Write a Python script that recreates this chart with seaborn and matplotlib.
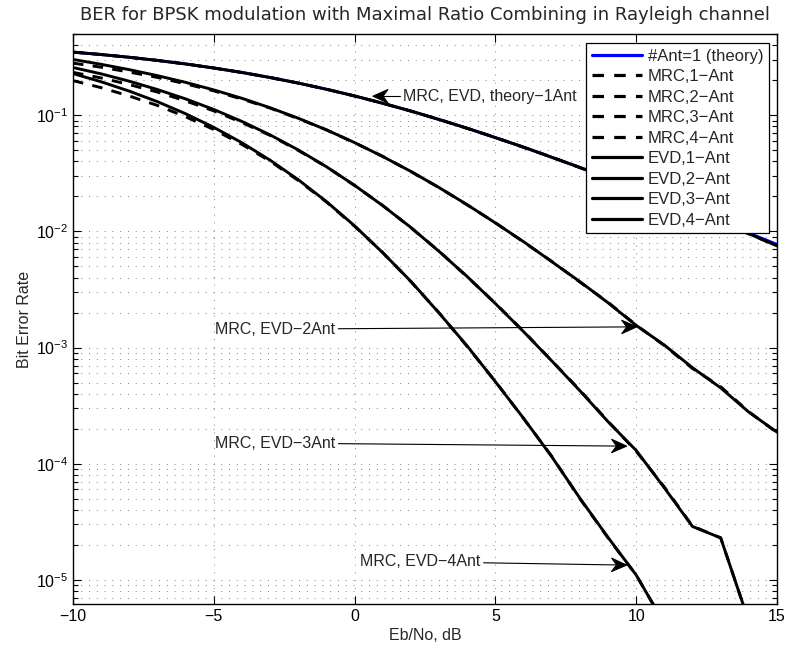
import numpy as np
import pandas as pd
import matplotlib
matplotlib.use("Agg")
import matplotlib.pyplot as plt
import seaborn as sns
from matplotlib.ticker import LogLocator, NullFormatter, FixedLocator
from matplotlib.patches import ArrowStyle
from matplotlib.path import Path

# ---------------- data ----------------
EbNo_dB = list(range(-10, 16))

theory_1ant = [0.3492, 0.3328, 0.3151, 0.2961, 0.2760, 0.2549, 0.2332, 0.2111, 0.1890, 0.1673,
               0.1464, 0.1267, 0.1085, 0.0919, 0.0771, 0.0642, 0.0530, 0.04347, 0.03546, 0.02878,
               0.02327, 0.01875, 0.01506, 0.01208, 0.00967, 0.00772]

mrc_1ant = [0.3490, 0.3330, 0.3149, 0.2963, 0.2758, 0.2551, 0.2330, 0.2113, 0.1888, 0.1675,
            0.1462, 0.1269, 0.1083, 0.0921, 0.0769, 0.0644, 0.0528, 0.04360, 0.03530, 0.02890,
            0.02315, 0.01880, 0.01495, 0.01215, 0.00950, 0.00752]
mrc_2ant = [0.2805, 0.2588, 0.2350, 0.2113, 0.1862, 0.1620, 0.1375, 0.1151, 0.0934, 0.0748,
            0.0579, 0.0442, 0.0327, 0.0238, 0.01688, 0.01186, 0.00810, 0.00552, 0.00366, 0.00245,
            0.00156, 0.00104, 0.00066, 0.00046, 0.000280, 0.000185]
mrc_3ant = [0.2337, 0.2093, 0.1834, 0.1582, 0.1326, 0.1089, 0.0864, 0.0670, 0.0497, 0.0360,
            0.0248, 0.0167, 0.01075, 0.00675, 0.00406, 0.00240, 0.00138, 0.000770, 0.000430, 0.000232,
            0.000128, 6.3e-5, 2.9e-5, 2.3e-5, 4.4e-6, 1.5e-6]
mrc_4ant = [0.1984, 0.1726, 0.1463, 0.1212, 0.0969, 0.0753, 0.0560, 0.0402, 0.0274, 0.01790,
            0.01107, 0.00657, 0.00369, 0.00199, 0.00102, 0.000510, 0.000245, 0.000116, 5.0e-5, 2.3e-5,
            1.1e-5, 4.2e-6, 1.5e-6, 8e-7, 4e-7, 2e-7]

evd_1ant = [0.3494, 0.3326, 0.3153, 0.2959, 0.2762, 0.2547, 0.2334, 0.2109, 0.1892, 0.1671,
            0.1466, 0.1265, 0.1087, 0.0917, 0.0773, 0.0640, 0.0532, 0.04340, 0.03555, 0.02870,
            0.02335, 0.01870, 0.01510, 0.01200, 0.00955, 0.00750]
evd_2ant = [0.3020, 0.2741, 0.2466, 0.2189, 0.1917, 0.1650, 0.1397, 0.1159, 0.09413, 0.07475,
            0.0581, 0.0441, 0.03280, 0.02382, 0.01695, 0.01182, 0.00815, 0.00549, 0.00369, 0.00243,
            0.00155, 0.00105, 0.00067, 0.00045, 0.000278, 0.000187]
evd_3ant = [0.2573, 0.2269, 0.1961, 0.1662, 0.1381, 0.1120, 0.08833, 0.06767, 0.05022, 0.03600,
            0.0249, 0.01665, 0.01080, 0.00672, 0.00408, 0.00239, 0.00137, 0.000768, 0.000425, 0.000230,
            0.000130, 6.2e-5, 2.88e-5, 2.3e-5, 4.4e-6, 1.5e-6]
evd_4ant = [0.2283, 0.1940, 0.1611, 0.1307, 0.1029, 0.07854, 0.05787, 0.04099, 0.02783, 0.01805,
            0.01115, 0.00655, 0.00371, 0.00198, 0.00103, 0.000508, 0.000246, 0.000115, 5.05e-5, 2.32e-5,
            1.1e-5, 4.2e-6, 1.5e-6, 8e-7, 4e-7, 2e-7]

series_names = ["#Ant=1 (theory)", "MRC,1\u2212Ant", "MRC,2\u2212Ant", "MRC,3\u2212Ant", "MRC,4\u2212Ant",
                "EVD,1\u2212Ant", "EVD,2\u2212Ant", "EVD,3\u2212Ant", "EVD,4\u2212Ant"]
series_values = [theory_1ant, mrc_1ant, mrc_2ant, mrc_3ant, mrc_4ant,
                 evd_1ant, evd_2ant, evd_3ant, evd_4ant]

title_text = "BER for BPSK modulation with Maximal Ratio Combining in Rayleigh channel"
xlabel_text = "Eb/No, dB"
ylabel_text = "Bit Error Rate"
x_ticks = [-10, -5, 0, 5, 10, 15]

# annotations: (text, arrow tip, text anchor)
annotations = [
    ("MRC, EVD, theory\u22121Ant", (0.65, 0.1457), (1.72, 0.1457)),
    ("MRC, EVD\u22122Ant", (10.02, 1.507e-3), (-4.96, 1.44e-3)),
    ("MRC, EVD\u22123Ant", (9.66, 1.417e-4), (-4.96, 1.504e-4)),
    ("MRC, EVD\u22124Ant", (9.66, 1.34e-5), (0.19, 1.432e-5)),
]

# ---------------- build table ----------------
frames = []
for name, vals in zip(series_names, series_values):
    frames.append(pd.DataFrame({"EbNo": EbNo_dB, "BER": vals, "series": name}))
df = pd.concat(frames, ignore_index=True)


# MATLAB-like "vback2" arrow head
class VBack(ArrowStyle._Base):
    def __init__(self, head_length=0.54, head_width=0.24, notch=0.33):
        self.head_length = head_length
        self.head_width = head_width
        self.notch = notch
        super().__init__()

    def transmute(self, path, mutation_size, linewidth):
        v = path.vertices
        x0, y0 = v[0]
        x1, y1 = v[-1]
        dx, dy = x1 - x0, y1 - y0
        d = np.hypot(dx, dy)
        ux, uy = dx / d, dy / d
        px, py = -uy, ux
        L = self.head_length * mutation_size
        W = self.head_width * mutation_size
        bx, by = x1 - ux * L, y1 - uy * L
        nx, ny = x1 - ux * L * (1 - self.notch), y1 - uy * L * (1 - self.notch)
        head = Path([(x1, y1), (bx + px * W, by + py * W), (nx, ny),
                     (bx - px * W, by - py * W), (x1, y1)],
                    [Path.MOVETO, Path.LINETO, Path.LINETO, Path.LINETO, Path.CLOSEPOLY])
        line = Path([(x0, y0), (nx, ny)], [Path.MOVETO, Path.LINETO])
        return [line, head], [False, True]


# ---------------- style ----------------
sns.set_style("ticks")
plt.rcParams["font.family"] = ["Liberation Sans", "DejaVu Sans"]
plt.rcParams["mathtext.fontset"] = "custom"
plt.rcParams["mathtext.rm"] = "Liberation Sans"
plt.rcParams["mathtext.it"] = "Liberation Sans:italic"
plt.rcParams["mathtext.bf"] = "Liberation Sans:bold"
plt.rcParams["axes.unicode_minus"] = True

FS = 11.5

fig = plt.figure(figsize=(7.88, 6.5), dpi=100)
fig.patch.set_facecolor("white")
ax = fig.add_axes([73 / 788, 1 - 604 / 650, 704 / 788, 570 / 650])
ax.set_facecolor("white")

dash = (0, (3.6, 3.2))
styles = [("#0000ff", "-")] + [("black", dash)] * 4 + [("black", "-")] * 4

for name, (col, ls) in zip(series_names, styles):
    sns.lineplot(data=df[df["series"] == name], x="EbNo", y="BER", ax=ax,
                 color=col, linestyle=ls, linewidth=2.1, label=name,
                 estimator=None, errorbar=None, sort=True)

ax.set_yscale("log")
ax.set_xlim(-10, 15)
ax.set_ylim(6.2e-6, 0.5)
ax.xaxis.set_major_locator(FixedLocator(x_ticks))
ax.yaxis.set_major_locator(LogLocator(base=10, numticks=20))
ax.yaxis.set_minor_locator(LogLocator(base=10, subs=np.arange(2, 10), numticks=20))
ax.yaxis.set_minor_formatter(NullFormatter())

grid_kw = dict(color="0.5", linestyle=(0, (1, 7)), linewidth=0.7)
ax.grid(True, which="major", axis="both", **grid_kw)
ax.grid(True, which="minor", axis="y", **grid_kw)
ax.set_axisbelow(True)

ax.tick_params(which="both", direction="in", top=True, right=True, labelsize=FS,
               colors="black", width=0.8)
ax.tick_params(which="major", length=6)
ax.tick_params(which="minor", length=3.5)
for sp in ax.spines.values():
    sp.set_visible(True)
    sp.set_color("black")
    sp.set_linewidth(1.0)

ax.set_xlabel(xlabel_text, fontsize=FS, labelpad=3)
ax.set_ylabel(ylabel_text, fontsize=FS, labelpad=3)
ax.set_title(title_text, fontsize=13.0, pad=10, family=["DejaVu Sans"])

for txt, tip, pos in annotations:
    ax.annotate(txt, xy=tip, xytext=pos, ha="left", va="center", fontsize=FS,
                arrowprops=dict(arrowstyle=VBack(), color="black", lw=0.8,
                                mutation_scale=20, shrinkA=0, shrinkB=0))

leg = ax.legend(loc="upper right", bbox_to_anchor=(0.9886, 0.9847), borderaxespad=0,
                fontsize=12, frameon=True, fancybox=False, shadow=False, framealpha=1,
                edgecolor="black", labelspacing=0.33, handlelength=3.0, handletextpad=0.35,
                borderpad=0.35)
leg.get_frame().set_linewidth(0.9)
for h in leg.get_lines():
    h.set_linewidth(2.3)

fig.savefig("out.png", dpi=100, facecolor="white")
